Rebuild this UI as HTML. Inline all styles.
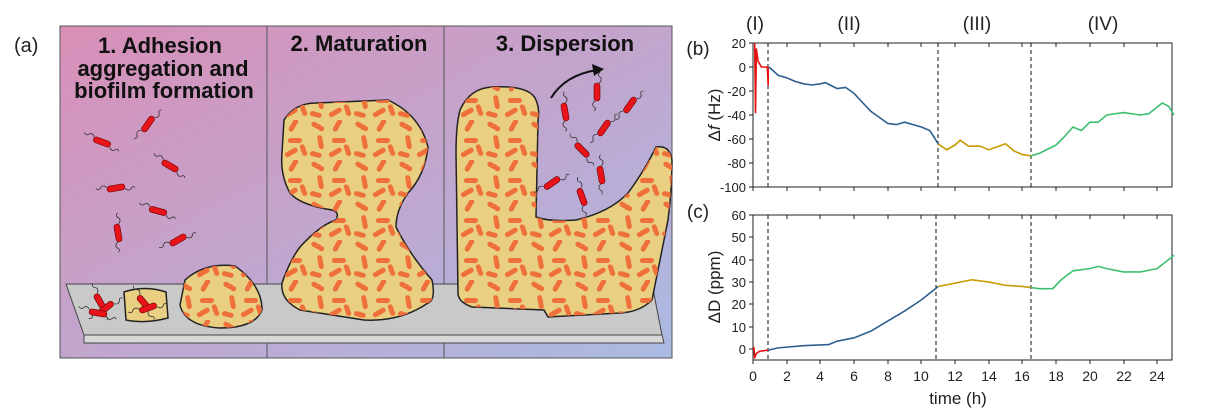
<!DOCTYPE html>
<html><head><meta charset="utf-8"><style>
html,body{margin:0;padding:0;background:#fff;width:1223px;height:410px;overflow:hidden}
text{font-family:"Liberation Sans",Arial,sans-serif}
</style></head><body>
<svg width="1223" height="410" viewBox="0 0 1223 410" xmlns="http://www.w3.org/2000/svg">
<defs>
<linearGradient id="bg" x1="0" y1="0" x2="1" y2="1">
<stop offset="0" stop-color="#d98fb7"/><stop offset="1" stop-color="#aabbe3"/></linearGradient>
<pattern id="rods" width="44" height="40" patternUnits="userSpaceOnUse">
<g fill="#f0703c">
<rect x="3" y="4" width="14" height="5" rx="2.5" transform="rotate(30 10 6)"/>
<rect x="22" y="3" width="14" height="5" rx="2.5" transform="rotate(-60 29 5)"/>
<rect x="6" y="20" width="14" height="5" rx="2.5" transform="rotate(80 13 22)"/>
<rect x="24" y="18" width="14" height="5" rx="2.5"/>
<rect x="20" y="30" width="14" height="5" rx="2.5" transform="rotate(-30 27 32)"/>
<rect x="2" y="32" width="12" height="5" rx="2.5" transform="rotate(15 8 34)"/>
<rect x="34" y="28" width="12" height="5" rx="2.5" transform="rotate(70 40 30)"/>
</g></pattern>
<g id="bac"><path d="M-9,-2 q-3,-4 -6,-1 q-2,3 -5,0 M9,2 q3,4 6,1 q2,-3 4,0" stroke="#333" stroke-width="0.8" fill="none"/>
<rect x="-9" y="-3" width="18" height="6" rx="3" fill="#e8141a" stroke="#600" stroke-width="0.6"/></g>
</defs>
<text x="14" y="52" font-size="20" fill="#222">(a)</text>
<rect x="60" y="26" width="612" height="332" fill="url(#bg)" stroke="#555" stroke-width="1"/>
<line x1="267" y1="26" x2="267" y2="358" stroke="#555"/>
<line x1="444" y1="26" x2="444" y2="358" stroke="#555"/>
<g font-weight="bold" font-size="22" fill="#111" text-anchor="middle">
<text x="160" y="53">1. Adhesion</text>
<text x="163" y="76">aggregation and</text>
<text x="164" y="98">biofilm formation</text>
<text x="359" y="51">2. Maturation</text>
<text x="565" y="51">3. Dispersion</text>
</g>
<polygon points="66,284 652,284 662,335 84,335" fill="#c9c9c9" stroke="#444"/>
<polygon points="84,335 662,335 664,343 84,343" fill="#d8d8d8" stroke="#444"/>
<g fill="#e8cf82" stroke="#222" stroke-width="1.5">
<path d="M124,292 Q145,285 166,292 L168,318 Q145,324 126,320 Z"/>
<path d="M185,280 Q205,262 235,266 Q262,285 262,310 Q255,328 220,328 Q185,326 180,305 Z"/>
<path d="M284,120 Q295,103 316,103 L388,100 Q420,115 428,147 Q425,175 408,193 Q396,210 396,227 Q410,255 432,280 Q436,300 428,303 Q400,322 364,320 L300,310 Q280,300 282,283 Q290,260 300,247 Q320,225 336,220 Q340,212 332,210 Q300,205 290,193 Q280,175 282,153 Z"/>
<path d="M460,110 Q470,88 492,87 Q530,85 536,100 Q540,110 538,120 L536,217 Q550,222 576,220 Q610,212 628,193 Q645,170 656,147 Q670,145 672,160 Q672,190 668,220 L652,300 Q640,312 620,313 L548,317 L544,310 L472,307 Q458,302 458,293 L456,153 Q456,125 460,110 Z"/>
</g>
<g fill="url(#rods)">
<path d="M185,280 Q205,262 235,266 Q262,285 262,310 Q255,328 220,328 Q185,326 180,305 Z"/>
<path d="M284,120 Q295,103 316,103 L388,100 Q420,115 428,147 Q425,175 408,193 Q396,210 396,227 Q410,255 432,280 Q436,300 428,303 Q400,322 364,320 L300,310 Q280,300 282,283 Q290,260 300,247 Q320,225 336,220 Q340,212 332,210 Q300,205 290,193 Q280,175 282,153 Z"/>
<path d="M460,110 Q470,88 492,87 Q530,85 536,100 Q540,110 538,120 L536,217 Q550,222 576,220 Q610,212 628,193 Q645,170 656,147 Q670,145 672,160 Q672,190 668,220 L652,300 Q640,312 620,313 L548,317 L544,310 L472,307 Q458,302 458,293 L456,153 Q456,125 460,110 Z"/>
</g>
<use href="#bac" transform="translate(100,302) rotate(60)"/>
<use href="#bac" transform="translate(106,308) rotate(-40)"/>
<use href="#bac" transform="translate(98,313) rotate(10)"/>
<use href="#bac" transform="translate(144,303) rotate(50)"/>
<use href="#bac" transform="translate(148,308) rotate(-20)"/>
<use href="#bac" transform="translate(148,124) rotate(-55)"/>
<use href="#bac" transform="translate(102,142) rotate(20)"/>
<use href="#bac" transform="translate(170,166) rotate(30)"/>
<use href="#bac" transform="translate(116,188) rotate(-10)"/>
<use href="#bac" transform="translate(158,211) rotate(15)"/>
<use href="#bac" transform="translate(118,233) rotate(80)"/>
<use href="#bac" transform="translate(178,240) rotate(-30)"/>
<use href="#bac" transform="translate(565,112) rotate(80)"/>
<use href="#bac" transform="translate(597,92) rotate(90)"/>
<use href="#bac" transform="translate(630,105) rotate(-55)"/>
<use href="#bac" transform="translate(604,128) rotate(-55)"/>
<use href="#bac" transform="translate(582,150) rotate(45)"/>
<use href="#bac" transform="translate(601,175) rotate(80)"/>
<use href="#bac" transform="translate(552,183) rotate(-35)"/>
<use href="#bac" transform="translate(582,197) rotate(70)"/>
<path d="M551,98 Q565,75 597,70" stroke="#111" stroke-width="2" fill="none"/>
<polygon points="604,69 592,64 594,76" fill="#111"/>
<g font-size="19" fill="#222" text-anchor="middle">
<text x="755" y="30">(I)</text><text x="849" y="30">(II)</text><text x="977" y="30">(III)</text><text x="1103" y="30">(IV)</text>
<text x="698" y="55">(b)</text><text x="698" y="218">(c)</text>
</g>
<rect x="753" y="43" width="419" height="144" fill="none" stroke="#222" stroke-width="1"/>
<rect x="753" y="215" width="419" height="145" fill="none" stroke="#222" stroke-width="1"/>
<g stroke="#222" stroke-width="1">
<path d="M753,67h-4M753,91h-4M753,115h-4M753,139h-4M753,163h-4M753,187h-4M753,43h-4"/>
<path d="M753,215h-4M753,237h-4M753,260h-4M753,282h-4M753,304h-4M753,327h-4M753,349h-4"/>
<path d="M753,187v4M787,187v4M820,187v4M854,187v4M888,187v4M921,187v4M955,187v4M989,187v4M1022,187v4M1056,187v4M1090,187v4M1124,187v4M1157,187v4"/>
<path d="M753,360v4M787,360v4M820,360v4M854,360v4M888,360v4M921,360v4M955,360v4M989,360v4M1022,360v4M1056,360v4M1090,360v4M1124,360v4M1157,360v4"/>
<path d="M787,43v4M820,43v4M854,43v4M888,43v4M921,43v4M955,43v4M989,43v4M1022,43v4M1056,43v4M1090,43v4M1124,43v4M1157,43v4"/>
<path d="M787,215v4M820,215v4M854,215v4M888,215v4M921,215v4M955,215v4M989,215v4M1022,215v4M1056,215v4M1090,215v4M1124,215v4M1157,215v4"/>
</g>
<g font-size="13" fill="#222" text-anchor="end">
<text x="746" y="48">20</text><text x="746" y="72">0</text><text x="746" y="96">-20</text><text x="746" y="120">-40</text><text x="746" y="144">-60</text><text x="746" y="168">-80</text><text x="746" y="192">-100</text>
<text x="746" y="220">60</text><text x="746" y="242">50</text><text x="746" y="265">40</text><text x="746" y="287">30</text><text x="746" y="309">20</text><text x="746" y="332">10</text><text x="746" y="354">0</text>
</g>
<g font-size="14" fill="#222" text-anchor="middle">
<text x="753" y="381">0</text><text x="787" y="381">2</text><text x="820" y="381">4</text><text x="854" y="381">6</text><text x="888" y="381">8</text><text x="921" y="381">10</text><text x="955" y="381">12</text><text x="989" y="381">14</text><text x="1022" y="381">16</text><text x="1056" y="381">18</text><text x="1090" y="381">20</text><text x="1124" y="381">22</text><text x="1157" y="381">24</text>
</g>
<text x="958" y="404" font-size="17" text-anchor="middle" fill="#222">time (h)</text>
<text transform="translate(720,115) rotate(-90)" font-size="17" text-anchor="middle" fill="#222">Δ<tspan font-style="italic">f</tspan> (Hz)</text>
<text transform="translate(720,287) rotate(-90)" font-size="17" text-anchor="middle" fill="#222">ΔD (ppm)</text>
<g stroke="#111" stroke-dasharray="4,3" stroke-width="1">
<line x1="768" y1="43" x2="768" y2="187"/><line x1="938" y1="43" x2="938" y2="187"/><line x1="1031" y1="43" x2="1031" y2="187"/>
<line x1="768" y1="215" x2="768" y2="360"/><line x1="936" y1="215" x2="936" y2="360"/><line x1="1031" y1="215" x2="1031" y2="360"/>
</g>
<g fill="none" stroke-width="1.6" stroke-linejoin="round">
<g transform="translate(753,67) scale(16.84,-1.2)">
<polyline vector-effect="non-scaling-stroke" stroke="#e81010" points="0.1,20 0.15,-38 0.2,15 0.3,5 0.5,0 0.85,0 0.9,-15 0.9,0"/>
<polyline vector-effect="non-scaling-stroke" stroke="#2e5f8f" points="0.95,0 1.5,-7 2,-9 2.5,-12 3,-14 3.5,-15 4,-14 4.3,-13 5,-18 5.5,-17 6,-22 7,-37 8,-47 8.5,-48 9,-46 10,-50 10.5,-53 11,-64"/>
<polyline vector-effect="non-scaling-stroke" stroke="#c79a00" points="11,-64 11.5,-69 12,-65 12.3,-61 12.8,-66 13.5,-66 14,-69 15,-64 15.5,-70 16,-73 16.5,-74"/>
<polyline vector-effect="non-scaling-stroke" stroke="#3cc070" points="16.5,-74 17,-72 18,-65 18.5,-58 19,-50 19.5,-53 20,-46 20.5,-46 21,-40 22,-38 23,-40 23.5,-39 24.3,-30 24.7,-33 25,-40"/>
</g>
<g transform="translate(753,349) scale(16.84,-2.233)">
<polyline vector-effect="non-scaling-stroke" stroke="#e81010" points="0.05,1 0.1,-4 0.2,-2 0.4,-1 0.9,-0.5"/>
<polyline vector-effect="non-scaling-stroke" stroke="#2e5f8f" points="0.9,-0.5 1.5,0.5 3,1.5 4.5,2 5,3.5 6,5 7,8 8,12.5 9,17 10,22 10.5,25 11,28"/>
<polyline vector-effect="non-scaling-stroke" stroke="#c79a00" points="11,28 12,29.5 13,31 14,30 15,28.5 16,28 16.5,27.5"/>
<polyline vector-effect="non-scaling-stroke" stroke="#3cc070" points="16.5,27.5 17,27 17.8,27 18.3,31 19,35 20,36 20.5,37 21,36 22,34.5 23,34.5 24,36 25,42"/>
</g>
</g>
</svg>
</body></html>
